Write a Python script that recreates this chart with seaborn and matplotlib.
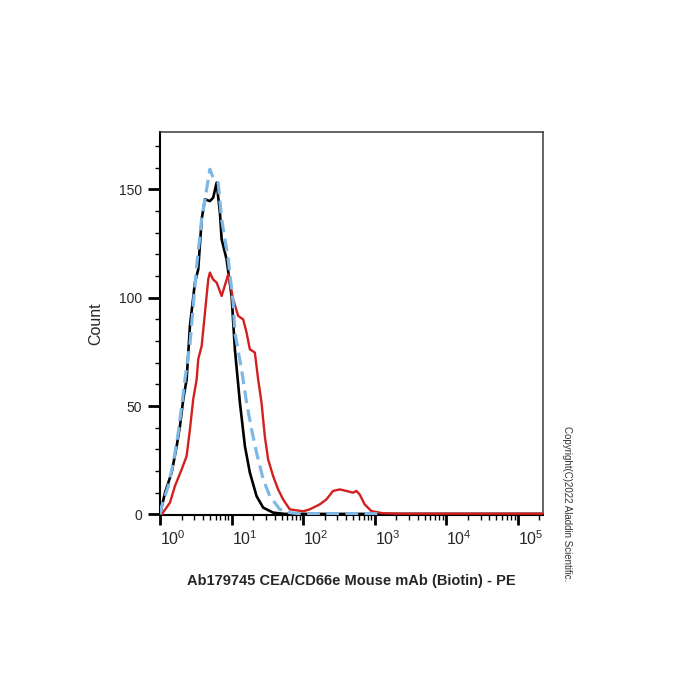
import numpy as np
import pandas as pd
import matplotlib
matplotlib.use("Agg")
import matplotlib.pyplot as plt
import matplotlib.transforms as mtransforms
from matplotlib.ticker import LogLocator, MultipleLocator, FixedLocator, NullFormatter
import seaborn as sns

# ---------------- data (x in decades, log10 of PE intensity) ----------------
black_logx = [0.0, 0.070, 0.163, 0.233, 0.279, 0.325, 0.372, 0.418, 0.488, 0.534,
              0.582, 0.628, 0.697, 0.743, 0.791, 0.837, 0.861, 0.930, 1.000, 1.046,
              1.116, 1.186, 1.255, 1.349, 1.441, 1.580, 1.743, 2.5, 5.35]
black_count = [0.0, 10.0, 19.3, 31.5, 40.8, 53.1, 62.3, 86.9, 107.0, 113.1,
               136.2, 145.4, 144.6, 146.2, 153.1, 139.3, 127.0, 117.7, 100.8, 76.2,
               51.6, 31.5, 19.3, 8.4, 3.1, 0.8, 0.2, 0.2, 0.2]

blue_logx = [0.0, 0.024, 0.116, 0.186, 0.255, 0.303, 0.349, 0.418, 0.464, 0.512,
             0.582, 0.628, 0.697, 0.740, 0.813, 0.861, 0.953, 1.022, 1.046, 1.139,
             1.209, 1.279, 1.349, 1.441, 1.534, 1.674, 1.813, 1.953, 3.05]
blue_count = [0.0, 3.8, 13.1, 23.9, 37.7, 50.0, 62.3, 78.5, 96.2, 114.6,
              136.2, 145.4, 159.3, 155.6, 153.1, 136.2, 117.7, 97.7, 83.9, 66.9,
              51.6, 39.2, 28.5, 16.2, 8.4, 2.3, 0.8, 0.3, 0.3]

red_logx = [0.024, 0.139, 0.209, 0.303, 0.372, 0.418, 0.464, 0.512, 0.534, 0.582,
            0.628, 0.674, 0.697, 0.740, 0.791, 0.861, 0.953, 1.022, 1.092, 1.162,
            1.209, 1.255, 1.325, 1.371, 1.418, 1.464, 1.510, 1.580, 1.650, 1.720,
            1.813, 2.000, 2.092, 2.232, 2.325, 2.417, 2.510, 2.604, 2.696, 2.743,
            2.789, 2.859, 2.953, 3.114, 3.35, 5.35]
red_count = [0.0, 5.4, 13.1, 20.8, 26.9, 39.2, 53.1, 62.3, 71.6, 77.7,
             93.1, 108.5, 111.6, 108.5, 107.0, 100.8, 110.8, 99.3, 91.6, 90.0,
             83.9, 76.2, 74.7, 62.3, 51.6, 36.1, 25.4, 17.7, 11.5, 6.9,
             2.3, 1.4, 2.3, 4.6, 6.9, 10.8, 11.5, 10.8, 10.0, 10.8,
             9.2, 4.6, 1.5, 0.5, 0.3, 0.3]

x_major = [1, 10, 100, 1000, 10000, 100000]
x_labels = [r"$10^{0}$", r"$10^{1}$", r"$10^{2}$", r"$10^{3}$", r"$10^{4}$", r"$10^{5}$"]
y_major = [0, 50, 100, 150]
y_labels = ["0", "50", "100", "150"]

x_title = "Ab179745 CEA/CD66e Mouse mAb (Biotin) - PE"
y_title = "Count"
copyright_text = "Copyright(C)2022 Aladdin Scientific."

# ---------------- style ----------------
sns.set_style("ticks")
plt.rcParams["font.family"] = ["Liberation Sans", "DejaVu Sans"]
plt.rcParams["mathtext.fontset"] = "custom"
plt.rcParams["mathtext.rm"] = "Liberation Sans"
plt.rcParams["mathtext.it"] = "Liberation Sans"
plt.rcParams["mathtext.bf"] = "Liberation Sans:bold"

fig = plt.figure(figsize=(7, 7), dpi=100)
fig.patch.set_facecolor("white")
ax = fig.add_axes([160 / 700, 1 - 515 / 700, 383 / 700, 383 / 700])

df_black = pd.DataFrame({"x": np.power(10.0, black_logx), "y": black_count})
df_blue = pd.DataFrame({"x": np.power(10.0, blue_logx), "y": blue_count})
df_red = pd.DataFrame({"x": np.power(10.0, red_logx), "y": red_count})

sns.lineplot(data=df_black, x="x", y="y", ax=ax, color="#000000", linewidth=1.9,
             estimator=None, sort=False, zorder=3)
sns.lineplot(data=df_red, x="x", y="y", ax=ax, color="#d41f1f", linewidth=1.7,
             estimator=None, sort=False, zorder=4)
sns.lineplot(data=df_blue, x="x", y="y", ax=ax, color="#7db8e6", linewidth=2.3,
             estimator=None, sort=False, zorder=5)
ax.lines[-1].set_dashes([4.0, 2.0])

ax.set_xscale("log")
ax.set_xlim(10 ** 0, 10 ** 5.35)
ax.set_ylim(-0.3, 176.5)

ax.xaxis.set_major_locator(FixedLocator(x_major))
ax.set_xticklabels(x_labels)
ax.xaxis.set_minor_locator(LogLocator(base=10, subs=np.arange(2, 10)))
ax.xaxis.set_minor_formatter(NullFormatter())
ax.yaxis.set_major_locator(FixedLocator(y_major))
ax.set_yticklabels(y_labels)
ax.yaxis.set_minor_locator(MultipleLocator(10))

ax.tick_params(axis="both", which="both", bottom=True, left=True, top=False, right=False)
ax.tick_params(axis="x", which="major", direction="out", length=7.5, width=2.0,
               pad=3, labelsize=11.5, color="black")
ax.tick_params(axis="x", which="minor", direction="out", length=3.8, width=1.0,
               color="black")
ax.tick_params(axis="y", which="major", direction="out", length=8.5, width=2.0,
               pad=4.5, labelsize=10, color="black")
ax.tick_params(axis="y", which="minor", direction="out", length=3.8, width=1.0,
               color="black")

offset = mtransforms.ScaledTranslation(13 / 100, 0, fig.dpi_scale_trans)
for lab in ax.get_xticklabels():
    lab.set_transform(lab.get_transform() + offset)

for side in ["top", "right"]:
    ax.spines[side].set_visible(True)
    ax.spines[side].set_color("#3a3a3a")
    ax.spines[side].set_linewidth(1.1)
for side in ["left", "bottom"]:
    ax.spines[side].set_color("black")
    ax.spines[side].set_linewidth(1.5)

ax.set_xlabel(x_title, fontsize=10.5, fontweight="bold", labelpad=0)
ax.xaxis.set_label_coords(0.5, -0.155)
ax.set_ylabel(y_title, fontsize=11.5)
ax.yaxis.set_label_coords(-0.147, 0.5)

fig.text(567 / 700, 1 - 504 / 700, copyright_text, rotation=-90, fontsize=7,
         color="#333333", ha="center", va="center")

fig.savefig("out.png", dpi=100, facecolor="white")
